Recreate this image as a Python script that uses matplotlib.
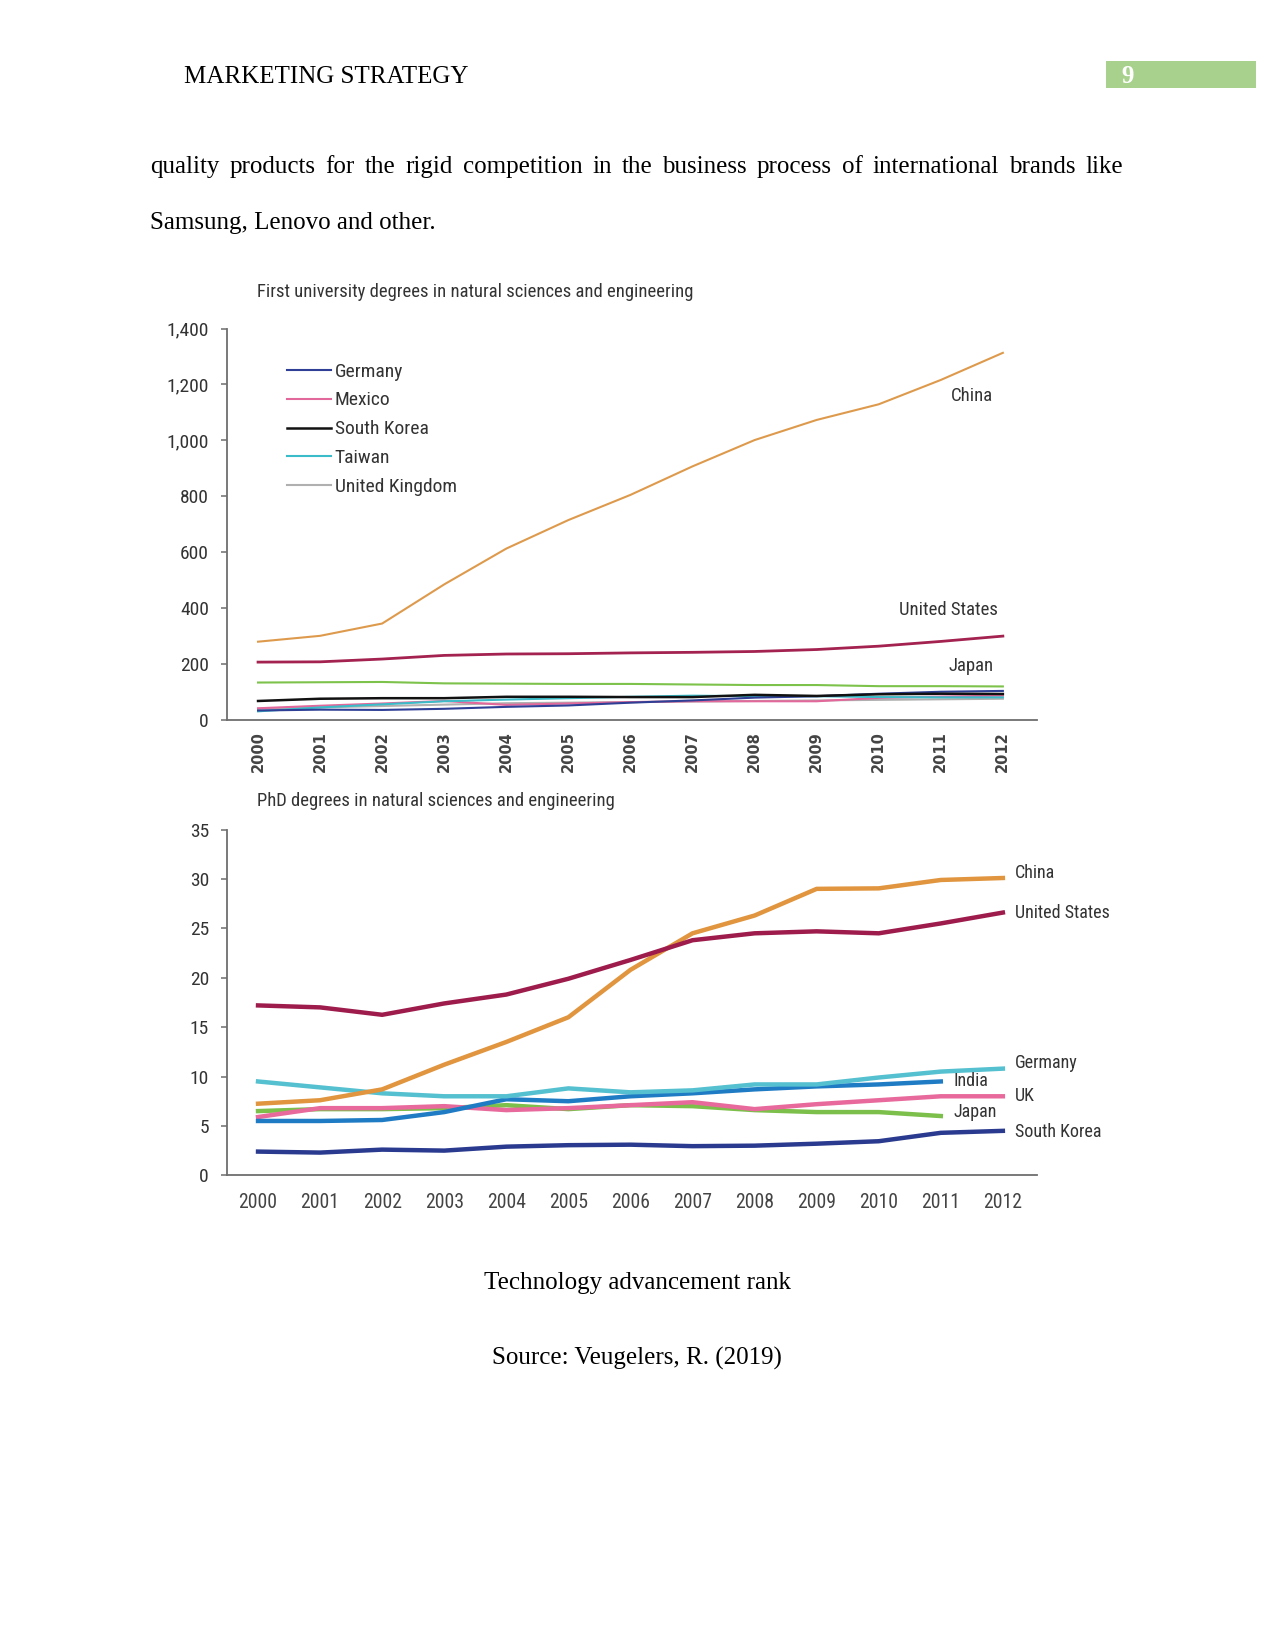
import matplotlib
matplotlib.use('Agg')
import matplotlib.pyplot as plt
from matplotlib import font_manager
from matplotlib.font_manager import FontProperties
from matplotlib.ticker import FuncFormatter, MultipleLocator

# ---------------- data ----------------
years = [2000, 2001, 2002, 2003, 2004, 2005, 2006, 2007, 2008, 2009, 2010, 2011, 2012]

# First university degrees (thousands)
first_china = [280, 301, 345, 485, 613, 715, 805, 907, 1001, 1073, 1129, 1216, 1313]
first_us = [207, 208, 218, 231, 236, 237, 240, 242, 245, 252, 264, 281, 300]
first_japan = [134, 135, 136, 131, 130, 129, 129, 127, 125, 125, 121, 121, 120]
first_skorea = [68, 76, 78, 78, 83, 83, 82, 82, 90, 86, 92, 94, 93]
first_germany = [34, 37, 36, 40, 47, 52, 62, 70, 80, 85, 94, 101, 104]
first_mexico = [42, 51, 59, 68, 54, 59, 64, 67, 67, 67, 79, 84, 87]
first_taiwan = [31, 45, 56, 67, 73, 78, 83, 87, 85, 85, 82, 81, 81]
first_uk = [40, 45, 50, 55, 60, 62, 64, 66, 68, 70, 72, 74, 76]

# PhD degrees (thousands)
phd_china = [7.25, 7.6, 8.7, 11.2, 13.5, 16.0, 20.8, 24.5, 26.3, 29.0, 29.05, 29.9, 30.1]
phd_us = [17.2, 17.0, 16.25, 17.4, 18.3, 19.9, 21.8, 23.8, 24.5, 24.7, 24.5, 25.5, 26.6]
phd_germany = [9.5, 8.9, 8.3, 8.0, 8.0, 8.8, 8.4, 8.6, 9.2, 9.2, 9.9, 10.5, 10.8]
phd_india = [5.5, 5.5, 5.6, 6.4, 7.7, 7.5, 8.0, 8.3, 8.7, 9.0, 9.2, 9.5]
phd_uk = [5.9, 6.8, 6.8, 7.0, 6.6, 6.8, 7.1, 7.4, 6.7, 7.2, 7.6, 8.0, 8.0]
phd_japan = [6.5, 6.7, 6.7, 6.8, 7.1, 6.7, 7.1, 7.0, 6.6, 6.4, 6.4, 6.0]
phd_skorea = [2.4, 2.3, 2.6, 2.5, 2.9, 3.05, 3.1, 2.95, 3.0, 3.2, 3.45, 4.3, 4.5]

legend_labels = ['Germany', 'Mexico', 'South Korea', 'Taiwan', 'United Kingdom']
top_title = 'First university degrees in natural sciences and engineering'
bottom_title = 'PhD degrees in natural sciences and engineering'

# ---------------- fonts ----------------
def pick_narrow():
    regular = [f for f in font_manager.fontManager.ttflist
               if f.style == 'normal' and f.weight in (400, 'normal', 'regular', 500)]
    prefs = ['Liberation Sans Narrow', 'Roboto Condensed', 'Open Sans Condensed',
             'Noto Sans Condensed', 'DejaVu Sans Condensed']
    for p in prefs:
        for f in regular:
            if f.name == p or p.replace(' ', '').lower() in f.fname.replace('-', '').replace('_', '').lower():
                return FontProperties(fname=f.fname), True
    for f in regular:
        if f.stretch in ('condensed', 'semi-condensed', 'extra-condensed') or 'narrow' in f.fname.lower() \
                or 'condensed' in f.fname.lower():
            return FontProperties(fname=f.fname), True
    return FontProperties(family='Liberation Sans'), False


NFP, IS_NARROW = pick_narrow()
NSIZE = 13.5 if IS_NARROW else 11.5


def nfont(size=None):
    fp = NFP.copy()
    fp.set_size(size if size else NSIZE)
    return fp


SERIF = 'Liberation Serif'
TXT = '#333333'

W, H = 1275, 1651
fig = plt.figure(figsize=(W / 100, H / 100), dpi=100)


def fx(x):
    return x / W


def fy(y):
    return 1 - y / H


# ---------------- page text ----------------
fig.text(fx(184), fy(83), 'MARKETING STRATEGY', fontsize=18, family=SERIF, va='baseline', color='black')
fig.patches.append(plt.Rectangle((fx(1106), fy(88)), (1256 - 1106) / W, (88 - 61) / H,
                                 transform=fig.transFigure, facecolor='#a9d18e', edgecolor='none'))
fig.text(fx(1121), fy(83), '9', fontsize=18, family=SERIF, va='baseline', color='white', weight='bold')

renderer = fig.canvas.get_renderer()


def justify(line, x0, x1, ybase, size):
    words = line.split()
    texts = [fig.text(0, fy(ybase), w, fontsize=size, family=SERIF, va='baseline') for w in words]
    widths = [t.get_window_extent(renderer).width for t in texts]
    gap = (x1 - x0 - sum(widths)) / (len(words) - 1)
    x = x0
    for t, w in zip(texts, widths):
        t.set_x(fx(x))
        x += w + gap


justify('quality products for the rigid competition in the business process of international brands like',
        150, 1123, 173, 18)
fig.text(fx(150), fy(229.5), 'Samsung, Lenovo and other.', fontsize=18, family=SERIF, va='baseline')

fig.text(fx(637), fy(1289), 'Technology advancement rank', fontsize=18, family=SERIF, va='baseline', ha='center')
fig.text(fx(637), fy(1365), 'Source: Veugelers, R. (2019)', fontsize=18, family=SERIF, va='baseline', ha='center')


# ---------------- axes helpers ----------------
def style_axes(ax):
    for s in ['top', 'right']:
        ax.spines[s].set_visible(False)
    for s in ['left', 'bottom']:
        ax.spines[s].set_color('#6e6e6e')
        ax.spines[s].set_linewidth(1.3)
    ax.tick_params(axis='y', length=4, width=1.1, color='#6e6e6e', pad=9, labelcolor=TXT)
    ax.tick_params(axis='x', length=0, labelcolor='#444444')
    for lab in ax.get_yticklabels():
        lab.set_fontproperties(nfont(14))
    ax.set_xlim(1999.5, 2012.55)


# ---------------- top chart ----------------
ax1 = fig.add_axes([fx(227), fy(720), (1037 - 227) / W, (720 - 328.5) / H])
lw = 1.5
l_uk, = ax1.plot(years, first_uk, color='#b0b0b0', lw=lw)
l_mx, = ax1.plot(years, first_mexico, color='#e2679a', lw=lw)
l_tw, = ax1.plot(years, first_taiwan, color='#3bbcc8', lw=lw)
l_de, = ax1.plot(years, first_germany, color='#2e3f95', lw=lw)
l_kr, = ax1.plot(years, first_skorea, color='#111111', lw=lw + 0.3)
ax1.plot(years, first_japan, color='#7dc24a', lw=lw)
ax1.plot(years, first_us, color='#a3224f', lw=lw + 0.5)
ax1.plot(years, first_china, color='#de9a4c', lw=lw)
ax1.set_ylim(0, 1400)
ax1.yaxis.set_major_locator(MultipleLocator(200))
ax1.yaxis.set_major_formatter(FuncFormatter(lambda v, p: f'{int(v):,}'))
ax1.set_xticks(years)
ax1.set_xticklabels([str(y) for y in years], rotation=90, fontsize=10.5, family='DejaVu Sans',
                    weight='semibold')
ax1.tick_params(axis='x', pad=8)
style_axes(ax1)

leg = ax1.legend([l_de, l_mx, l_kr, l_tw, l_uk], legend_labels, loc='upper left',
                 bbox_to_anchor=(0.074, 0.913), frameon=False, handlelength=2.25,
                 handletextpad=0.2, labelspacing=0.56, borderpad=0, borderaxespad=0,
                 prop=nfont(14))
for t in leg.get_texts():
    t.set_color(TXT)

ax1.text(2011.17, 1157, 'China', fontproperties=nfont(), color=TXT, va='center')
ax1.text(2010.32, 395, 'United States', fontproperties=nfont(), color=TXT, va='center')
ax1.text(2011.13, 193, 'Japan', fontproperties=nfont(), color=TXT, va='center')
fig.text(fx(257), fy(292), top_title, fontproperties=nfont(13.4), color=TXT, va='center')

# ---------------- bottom chart ----------------
ax2 = fig.add_axes([fx(227), fy(1175.3), (1037 - 227) / W, (1175.3 - 829.6) / H])
lw2 = 3.2
ax2.plot(years, phd_skorea, color='#2a3a8f', lw=lw2)
ax2.plot(years[:12], phd_japan, color='#7cbf4a', lw=lw2)
ax2.plot(years, phd_uk, color='#e8699b', lw=lw2)
ax2.plot(years[:12], phd_india, color='#1f7cc4', lw=lw2)
ax2.plot(years, phd_germany, color='#55c0cf', lw=lw2)
ax2.plot(years, phd_china, color='#e0953e', lw=lw2)
ax2.plot(years, phd_us, color='#9e1c4c', lw=lw2)
ax2.set_ylim(0, 35)
ax2.yaxis.set_major_locator(MultipleLocator(5))
ax2.set_xticks(years)
ax2.set_xticklabels([str(y) for y in years])
for lab in ax2.get_xticklabels():
    lab.set_fontproperties(nfont(14.2))
ax2.tick_params(axis='x', pad=13)
style_axes(ax2)

for yr, val, name in [(2012.2, 30.6, 'China'), (2012.2, 26.6, 'United States'),
                      (2012.2, 11.4, 'Germany'), (2011.2, 9.5, 'India'),
                      (2012.2, 8.0, 'UK'), (2011.2, 6.4, 'Japan'), (2012.2, 4.4, 'South Korea')]:
    ax2.text(yr, val, name, fontproperties=nfont(13), color=TXT, va='center')
fig.text(fx(257), fy(801), bottom_title, fontproperties=nfont(13.4), color=TXT, va='center')

fig.savefig('out.png', dpi=100)
